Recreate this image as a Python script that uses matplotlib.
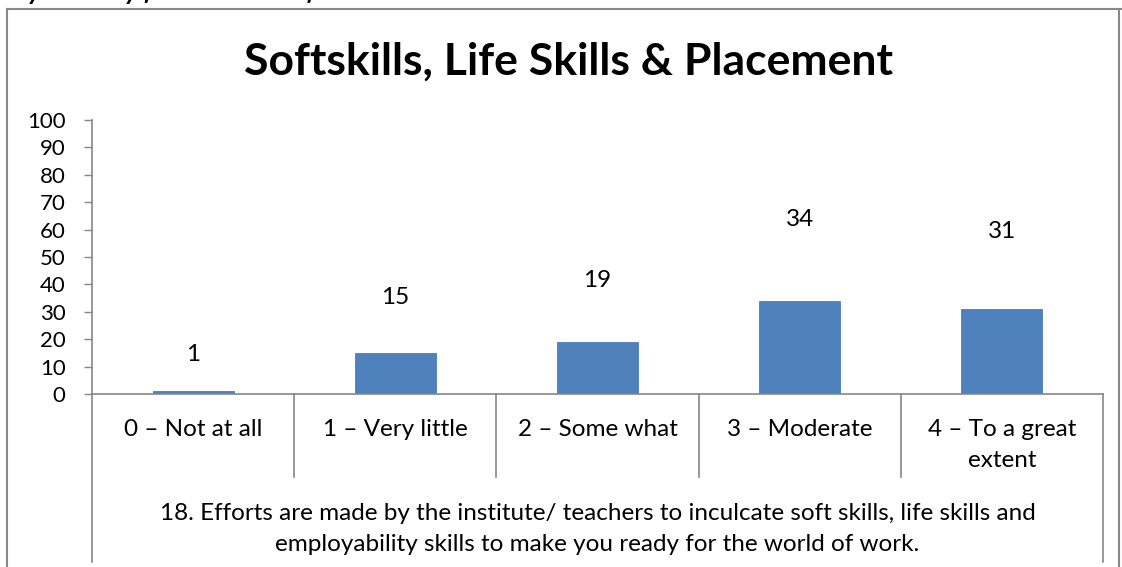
import matplotlib
matplotlib.use('Agg')
import matplotlib.pyplot as plt
from matplotlib.lines import Line2D

# survey answers for question 18
categories = ['0 – Not at all', '1 – Very little', '2 – Some what',
              '3 – Moderate', '4 – To a great\nextent']
responses = [1, 15, 19, 34, 31]
yticks = list(range(0, 101, 10))

title = 'Softskills, Life Skills & Placement'
axis_title = ('18. Efforts are made by the institute/ teachers to inculcate soft skills, life skills and\n'
              'employability skills to make you ready for the world of work.')
cut_text = 're you ready for the world of work.'

W, H = 1122, 567
plt.rcParams['font.family'] = ['Lato', 'DejaVu Sans']

fig = plt.figure(figsize=(W / 100, H / 100), dpi=100)
fig.patch.set_facecolor('white')

# plot area in pixel terms
left, right, top, bottom = 92, 1103, 120, 394
ax = fig.add_axes([left / W, 1 - bottom / H, (right - left) / W, (bottom - top) / H])

grey = '#868686'
x = list(range(len(categories)))
ax.bar(x, responses, width=0.4, color='#4F81BD', edgecolor='#4A7EBB', linewidth=0.6)

for xi, v in zip(x, responses):
    ax.text(xi, v * 1.5 + 12.8, str(v), ha='center', va='center', fontsize=17.5)

ax.set_xlim(-0.5, len(categories) - 0.5)
ax.set_ylim(0, 100)
ax.set_yticks(yticks)
ax.tick_params(axis='y', direction='out', length=6, width=1, color=grey, pad=13, labelsize=16)
ax.set_xticks([])
for s in ['top', 'right']:
    ax.spines[s].set_visible(False)
for s in ['left', 'bottom']:
    ax.spines[s].set_color(grey)
    ax.spines[s].set_linewidth(1.2)

# category separators below the axis
trans = ax.get_xaxis_transform()
h_ax = bottom - top
short = -(477 - bottom) / h_ax
long_ = -(562 - bottom) / h_ax
for i in range(len(categories) + 1):
    end = long_ if i in (0, len(categories)) else short
    ax.plot([i - 0.5, i - 0.5], [0, end], color=grey, lw=1.2, transform=trans, clip_on=False)

lab_y = -(419 - bottom) / h_ax
for xi, c in zip(x, categories):
    ax.text(xi, lab_y, c, ha='center', va='top', fontsize=17.5, linespacing=1.6,
            transform=trans)

ax.text(0.5, -(503 - bottom) / h_ax, axis_title, ha='center', va='top', fontsize=17.5,
        linespacing=1.6, transform=ax.transAxes)

fig.text(569 / W, 1 - 62 / H, title, ha='center', va='center', fontsize=32, fontweight='bold')

# outer chart frame
fc = '#898989'
fig.add_artist(Line2D([7 / W, 7 / W], [0, 1 - 9 / H], color=fc, lw=1.5))
fig.add_artist(Line2D([7 / W, 1], [1 - 9 / H, 1 - 9 / H], color=fc, lw=1.5))
fig.add_artist(Line2D([1119 / W, 1119 / W], [0, 1 - 9 / H], color=fc, lw=1.5))

# text from the page above, mostly cut off
fig.text(0, 1, cut_text, ha='left', va='baseline', fontsize=19,
         fontweight='bold', fontstyle='italic')

fig.savefig('out.png', dpi=100)
